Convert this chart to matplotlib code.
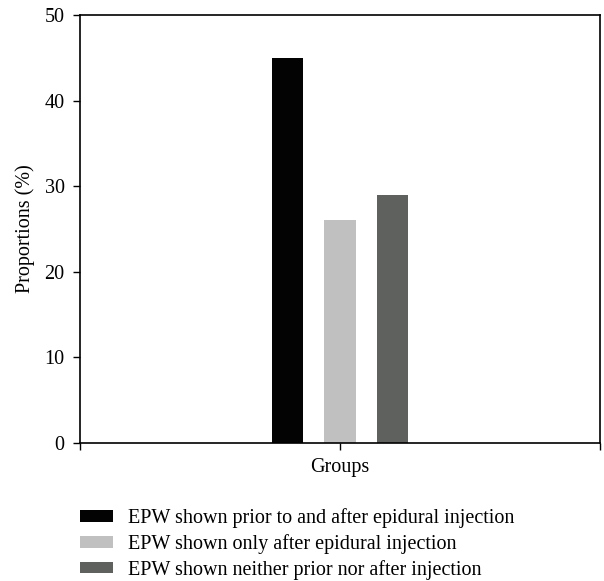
import matplotlib
matplotlib.use("Agg")
import matplotlib.pyplot as plt

# data
labels = [
    "EPW shown prior to and after epidural injection",
    "EPW shown only after epidural injection",
    "EPW shown neither prior nor after injection",
]
values = [45, 26, 29]
colors = ["#030303", "#c0c0c0", "#5f615f"]
positions = [-1, 0, 1]
y_ticks = [0, 10, 20, 30, 40, 50]

plt.rcParams["font.family"] = ["Liberation Serif", "DejaVu Serif"]
plt.rcParams["font.size"] = 14.5

fig = plt.figure(figsize=(6.04, 5.81), dpi=100)
ax = fig.add_axes([80 / 604, 1 - 443 / 581, 520 / 604, 428 / 581])

for x, v, c, lab in zip(positions, values, colors, labels):
    ax.bar(x, v, width=0.6, color=c, label=lab)

ax.set_xlim(-4.95, 4.95)
ax.set_ylim(0, 50)
ax.set_yticks(y_ticks)
ax.set_xticks([-4.95, 0, 4.95])
ax.set_xticklabels(["", "Groups", ""])
ax.tick_params(direction="out", length=5, width=1, color="black", pad=6)
ax.set_ylabel("Proportions (%)", labelpad=7)
for s in ax.spines.values():
    s.set_linewidth(1.2)

# legend sits under the axes, nudged up a little so the last line is not clipped
fig.legend(loc="upper left", bbox_to_anchor=(72 / 604, 1 - 500 / 581),
           frameon=False, handlelength=1.65, handleheight=0.5,
           handletextpad=0.75, labelspacing=0.3, borderaxespad=0)

fig.savefig("out.png", dpi=100)
